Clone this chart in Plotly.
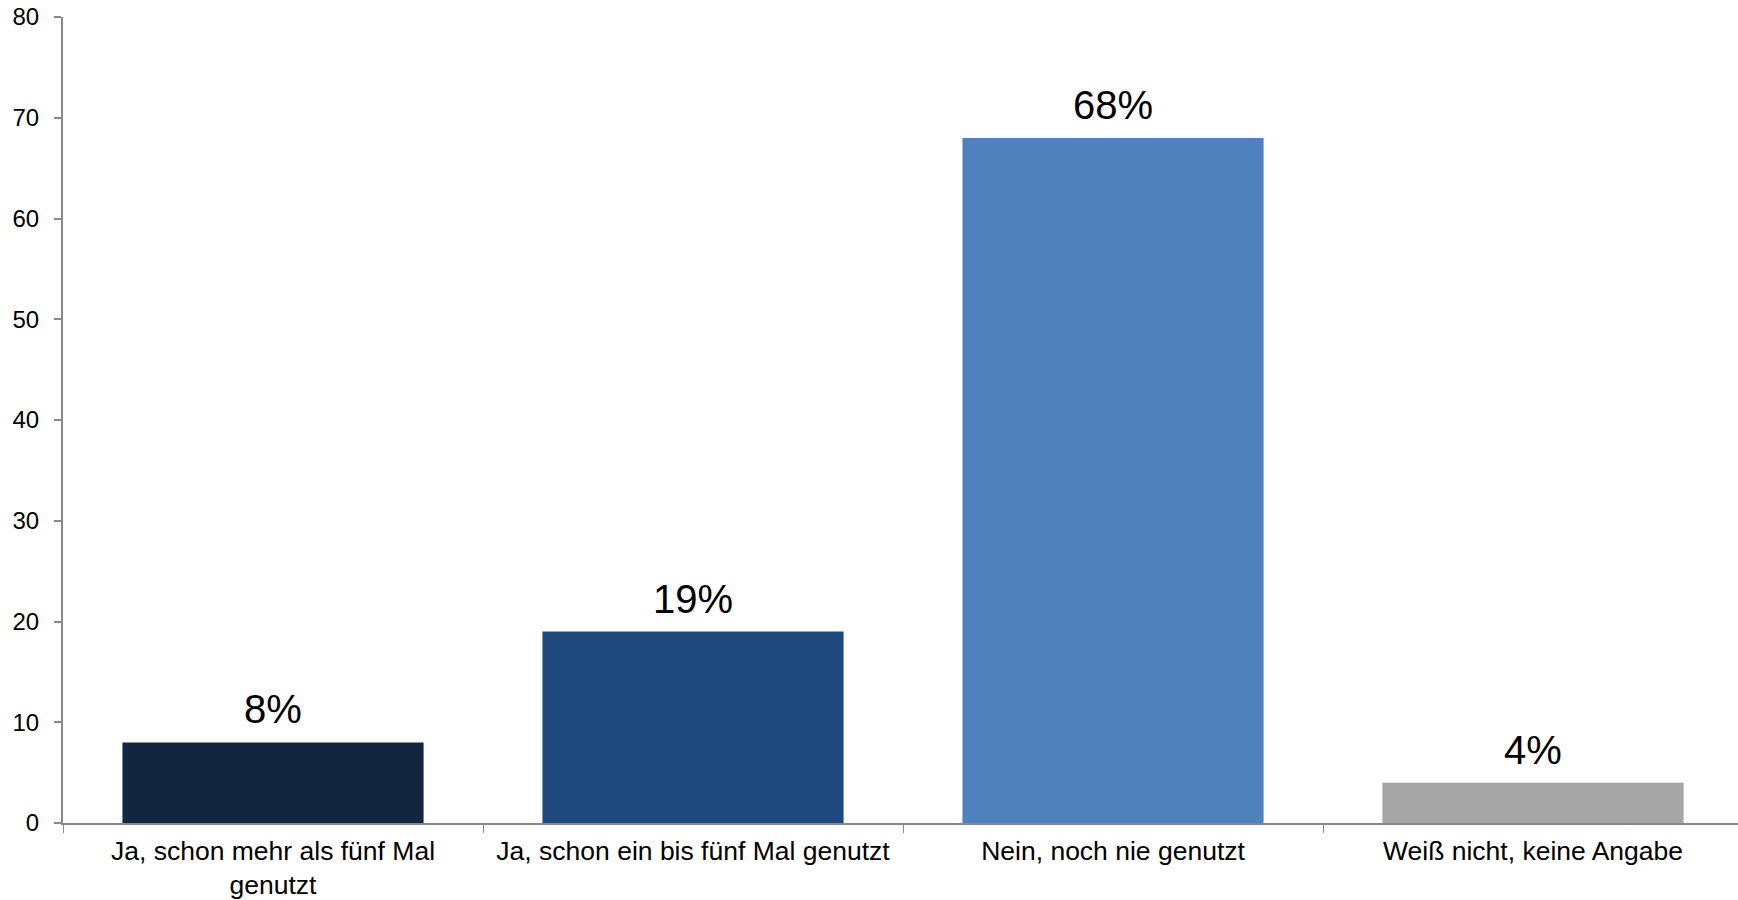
import plotly.graph_objects as go

categories = ["Ja, schon mehr als fünf Mal<br>genutzt", "Ja, schon ein bis fünf Mal genutzt",
              "Nein, noch nie genutzt", "Weiß nicht, keine Angabe"]
values = [8, 19, 68, 4]
labels = ["8%", "19%", "68%", "4%"]
colors = ["#132640", "#1F497D", "#4F81BD", "#A5A5A5"]

FONT = "Liberation Sans, Arial, sans-serif"

fig = go.Figure(go.Bar(x=categories, y=values, marker=dict(color=colors, line=dict(width=0)),
                       width=0.717, hoverinfo="skip"))

for c, v, t in zip(categories, values, labels):
    fig.add_annotation(x=c, y=v, text=t, showarrow=False, yanchor="bottom", yshift=9,
                       font=dict(family=FONT, size=40, color="#000000"))

axis_col = "#898989"
fig.update_layout(
    width=1738, height=900,
    margin=dict(l=63, r=0, t=17, b=77),
    paper_bgcolor="white", plot_bgcolor="white",
    showlegend=False,
    font=dict(family=FONT, color="#000000"),
    xaxis=dict(range=[-0.5, 3.488], showline=True, linecolor=axis_col, linewidth=2,
               ticks="outside", tickson="boundaries", ticklen=8, tickcolor=axis_col, tickwidth=1,
               tickfont=dict(size=26.5, family=FONT, color="#000000"), showgrid=False, zeroline=False,
               ticklabelstandoff=3),
    yaxis=dict(range=[0, 80], dtick=10, showline=True, linecolor=axis_col, linewidth=2,
               ticks="outside", ticklen=7, tickcolor=axis_col, tickwidth=2,
               tickfont=dict(size=24, family=FONT, color="#000000"), showgrid=False, zeroline=False,
               ticklabelstandoff=10),
)

fig.write_html("out.html")
